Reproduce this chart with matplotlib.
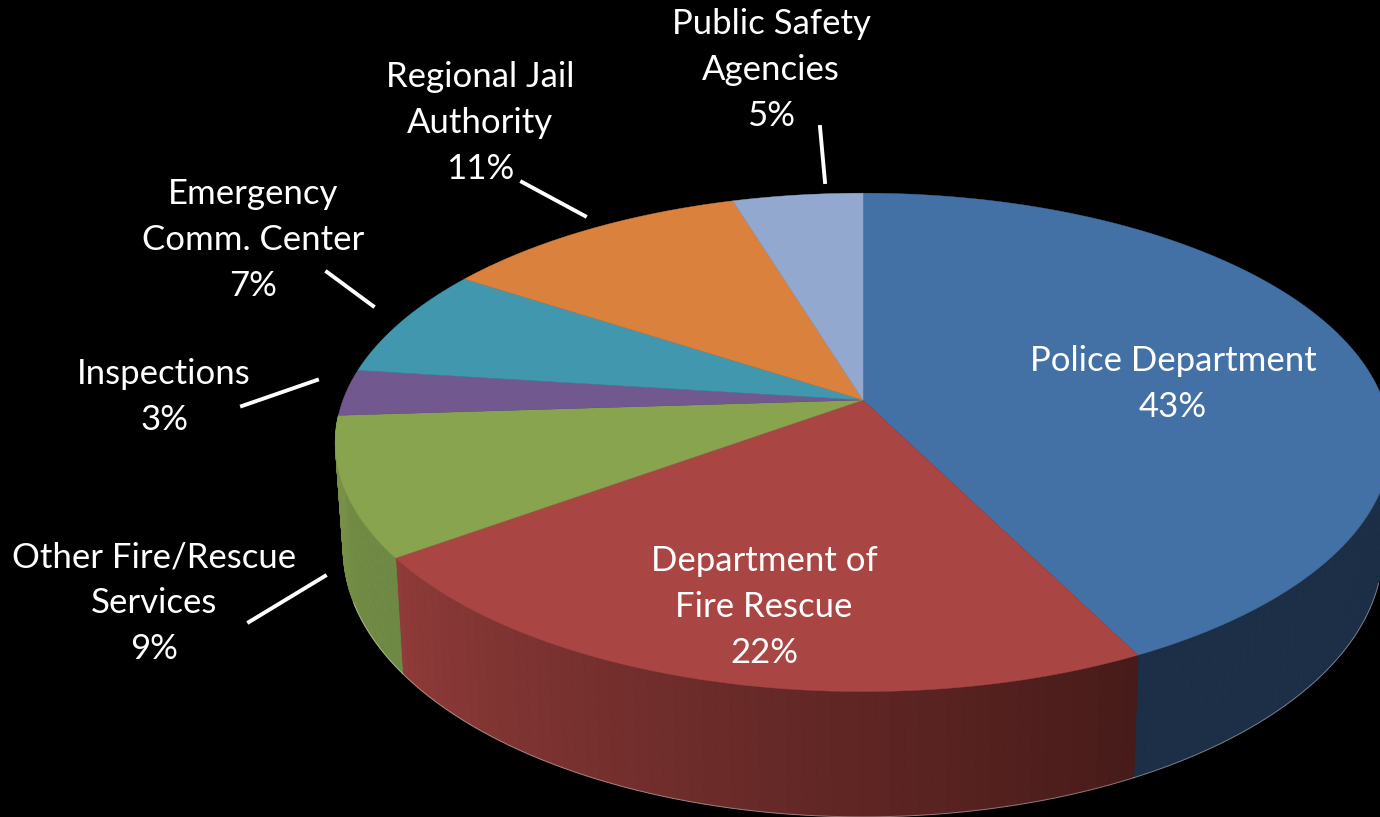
import numpy as np
import matplotlib
matplotlib.use("Agg")
import matplotlib.pyplot as plt

# slices, clockwise from 12 o'clock (shown rounded in the labels)
labels = ["Police Department", "Department of\nFire Rescue", "Other Fire/Rescue\nServices",
          "Inspections", "Emergency\nComm. Center", "Regional Jail\nAuthority",
          "Public Safety\nAgencies"]
values = [42.6, 22.4, 9.0, 3.0, 7.2, 11.1, 4.7]

colors = ["#4371a6", "#a94543", "#89a44e", "#71588f", "#4197ae", "#d9813d", "#93a8cf"]
# side wall colour at left and right end of each visible wall
side_left = ["#1c2f47", "#8e3b39", "#7a9046"]
side_right = ["#1c2f47", "#471b19", "#6f8a45"]

# pie geometry in picture pixels
cx, cy = 863, 400
rx, ry, k = 520, 242, 0.17
depth, shrink = 104, 0.985


def project(theta):
    # clockwise angle from the top onto the tilted disc, near side looks bigger
    u, v = np.sin(theta), np.cos(theta)
    w = 1 + k * v
    return cx + rx * u / w, cy - ry * v / w


def project_low(theta):
    u, v = np.sin(theta), np.cos(theta)
    w = 1 + k * v
    return cx + shrink * rx * u / w, cy - ry * v / w + depth / w


fig = plt.figure(figsize=(13.8, 8.17), dpi=100, facecolor="black")
ax = fig.add_axes([0, 0, 1, 1])
ax.set_xlim(0, 1380)
ax.set_ylim(817, 0)
ax.axis("off")

edges = np.cumsum([0] + values) / sum(values) * 2 * np.pi

# side walls, only the first three slices reach the near side
for i in range(len(side_left)):
    a0 = max(edges[i], np.pi / 2)
    a1 = edges[i + 1]
    steps = np.linspace(a0, a1, 61)
    c_r = np.array(matplotlib.colors.to_rgb(side_right[i]))
    c_l = np.array(matplotlib.colors.to_rgb(side_left[i]))
    for j in range(60):
        t = np.array([steps[j], steps[j + 1]])
        x_top, y_top = project(t)
        x_low, y_low = project_low(t)
        f = j / 59
        ax.fill(np.r_[x_top, x_low[::-1]], np.r_[y_top, y_low[::-1]],
                color=c_r * (1 - f) + c_l * f, lw=0.6, zorder=1)
    # thin light rim along the lower edge, not up the two ends
    keep = (steps > 1.85) & (steps < 4.35)
    x_low, y_low = project_low(steps[keep])
    ax.plot(x_low, y_low, color="white", lw=0.7, alpha=0.4, zorder=1.5)

# top faces
for i in range(len(values)):
    t = np.linspace(edges[i], edges[i + 1], 200)
    x, y = project(t)
    ax.fill(np.r_[cx, x], np.r_[cy, y], color=colors[i], lw=0.3, zorder=2)

# labels
font = ["Lato", "DejaVu Sans"]
label_pos = [(1173, 384), (764, 607), (154, 603), (164, 397), (253, 240), (480, 123), (771, 70)]
for i, name in enumerate(labels):
    ax.text(label_pos[i][0], label_pos[i][1], f"{name}\n{values[i]:.0f}%", color="white",
            ha="center", va="center", fontsize=25, family=font, linespacing=1.52, zorder=3)

# leader lines
leaders = [((820, 127), (825, 182)), ((522, 182), (585, 216)), ((327, 272), (373, 306)),
           ((242, 406), (317, 380)), ((249, 622), (325, 576))]
for (x0, y0), (x1, y1) in leaders:
    ax.plot([x0, x1], [y0, y1], color="white", lw=2.8, zorder=3)

fig.savefig("out.png", dpi=100, facecolor="black")
plt.close(fig)
